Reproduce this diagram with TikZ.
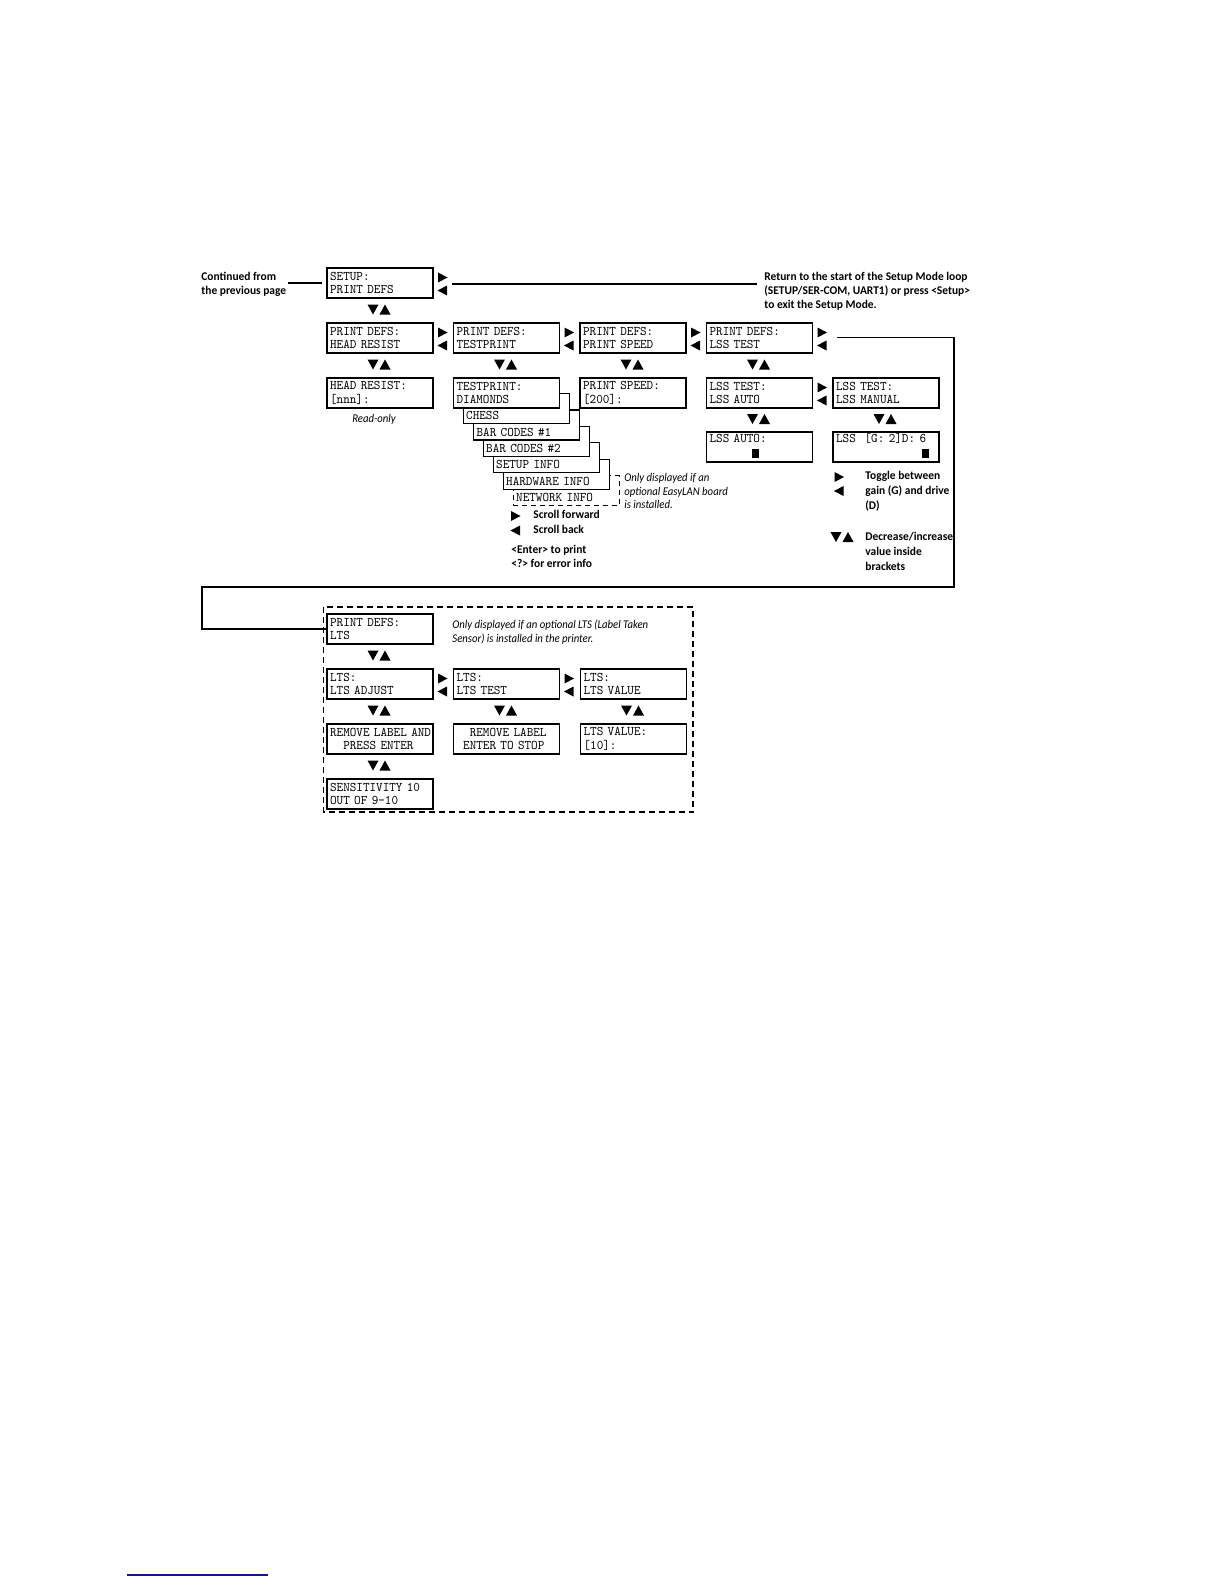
\documentclass[tikz,border=0pt]{standalone}
\usepackage{fontspec}
\setmainfont{Carlito}
\newfontfamily\lcdfont{lmmono10-regular.otf}[FakeStretch=0.95]
\newfontfamily\boldnote{Carlito}[FakeStretch=0.97, UprightFont=* Bold]
\newfontfamily\itnote{Carlito}[FakeStretch=0.91, UprightFont=* Italic]
\usetikzlibrary{calc}
\begin{document}
\begin{tikzpicture}[x=0.5pt,y=-0.5pt,
  lcd/.style={draw, line width=0.9pt, fill=white, anchor=north west,
    minimum width=53pt, minimum height=15pt, inner xsep=1.6pt, inner ysep=0pt,
    text width=49.8pt, align=left, font=\lcdfont\fontsize{6.6}{6.8}\selectfont},
  stk/.style={lcd, line width=0.5pt, text height=12pt, text depth=1.1pt},
  stkthick/.style={stk, line width=0.9pt},
  bnote/.style={font=\boldnote\fontsize{5.9}{6.9}\selectfont, align=left, inner sep=0pt, anchor=west},
  inote/.style={font=\itnote\fontsize{5.9}{6.9}\selectfont, align=left, inner sep=0pt, anchor=west},
  conn/.style={line width=0.75pt},
  rtri/.pic={\fill (-4.5,-5) -- (5,0) -- (-4.5,5) -- cycle;},
  ltri/.pic={\fill (4.5,-5) -- (-5,0) -- (4.5,5) -- cycle;},
  updown/.pic={\fill (-11.5,-5) -- (-0.5,-5) -- (-6,5) -- cycle;
               \fill (0.5,5) -- (11.5,5) -- (6,-5) -- cycle;},
  lrpair/.pic={\pic at (0,10.5) {rtri}; \pic at (0,23.5) {ltri};}
]
\useasboundingbox (0,0) rectangle (1224,1584);

% ---------- row 1
\node[lcd] (setup) at (326,267) {SETUP:\\PRINT DEFS};
\pic at (442.5,267) {lrpair};
\node[bnote] (cont) at (201,284.5) {Continued from\\the previous page};
\draw[conn, shorten >=2pt] (cont.east |- setup.west) ++(1,0) -- (setup.west);
\node[bnote] (ret) at (764,291) {Return to the start of the Setup Mode loop\\(SETUP/SER-COM, UART1) or press <Setup>\\to exit the Setup Mode.};
\coordinate (r0) at (452,284);
\draw[conn, shorten >=3.5pt] (r0) -- (r0 -| ret.west);
\pic at (379,309.5) {updown};

% ---------- row 2
\node[lcd] (pdhead)  at (326,322)   {PRINT DEFS:\\HEAD RESIST};
\node[lcd] (pdtest)  at (452.5,322) {PRINT DEFS:\\TESTPRINT};
\node[lcd] (pdspeed) at (579,322)   {PRINT DEFS:\\PRINT SPEED};
\node[lcd] (pdlss)   at (705.5,322) {PRINT DEFS:\\LSS TEST};
\pic at (442.5,322) {lrpair};
\pic at (569,322) {lrpair};
\pic at (695.5,322) {lrpair};
\pic at (822,322) {lrpair};
\foreach \cx in {379,505.5,632,758.5} \pic at (\cx,364.5) {updown};

% ---------- row 3
\node[lcd] (headres) at (326,377) {HEAD RESIST:\\{[}nnn{]}:};
\node[inote, anchor=center] (ro) at (374,419) {Read-only};

\node[stk, dashed, dash pattern=on 2.5pt off 2pt] (netinfo) at (512.5,475) {NETWORK INFO};
\node[stk] (hwinfo)    at (502.5,458.6) {HARDWARE INFO};
\node[stk] (setinfo)   at (492.5,442.2) {SETUP INFO};
\node[stk] (bc2)       at (482.5,425.8) {BAR CODES \#2};
\node[stkthick] (bc1)  at (472.5,409.4) {BAR CODES \#1};
\node[stk] (chess)     at (462.5,393) {CHESS};
\node[lcd] (testprint) at (452.5,377) {TESTPRINT:\\DIAMONDS};

\node[lcd] (printspeed) at (579,377)   {PRINT SPEED:\\{[}200{]}:};
\node[lcd] (lssauto)    at (705.5,377) {LSS TEST:\\LSS AUTO};
\node[lcd] (lssman)     at (832,377)   {LSS TEST:\\LSS MANUAL};
\pic at (822,377) {lrpair};
\foreach \cx in {758.5,885} \pic at (\cx,419) {updown};

% ---------- row 4
\node[lcd] (lssautov) at (705.5,431) {LSS AUTO:\\\strut};
\node[lcd] (lssgd)    at (832,431)   {\mbox{LSS\ \ {[}G:\ 2{]}D:\ 6}\\\strut};
\fill (752,449) rectangle (759,457.5);
\fill (922,449) rectangle (929,457.5);

% ---------- legends
\node[inote] (easy) at (624,491) {Only displayed if an\\optional EasyLAN board\\is installed.};
\pic at (515.5,516) {rtri};
\pic at (515.5,530.5) {ltri};
\node[bnote] (sf) at (533,514.5) {Scroll forward};
\node[bnote] (sb) at (533,529.5) {Scroll back};
\node[bnote] (ent) at (511,556.5) {<Enter> to print\\<?> for error info};

\pic at (839,477) {rtri};
\pic at (839,491) {ltri};
\node[bnote, font=\boldnote\fontsize{5.9}{7.5}\selectfont] (tog) at (865,491) {Toggle between\\gain (G) and drive\\(D)};
\pic at (842,537) {updown};
\node[bnote, font=\boldnote\fontsize{5.9}{7.5}\selectfont] (dec) at (865,551.5) {Decrease/increase\\value inside\\brackets};

% ---------- LTS group
\draw[line width=0.6pt, dash pattern=on 3pt off 2pt] (323.5,607) rectangle (693,812);
\node[lcd] (pdlts) at (326,613) {PRINT DEFS:\\LTS};
\node[inote] (ltsnote) at (452,632.5) {Only displayed if an optional LTS (Label Taken\\Sensor) is installed in the printer.};
\pic at (379,655.5) {updown};
\node[lcd] (ltsadj)  at (326,668)   {LTS:\\LTS ADJUST};
\node[lcd] (ltstest) at (452.5,668) {LTS:\\LTS TEST};
\node[lcd] (ltsval)  at (579.5,668) {LTS:\\LTS VALUE};
\pic at (442.5,668) {lrpair};
\pic at (569,668) {lrpair};
\foreach \cx in {379,505.5,632.5} \pic at (\cx,710.5) {updown};
\node[lcd] (remove1) at (326,723)   {\mbox{REMOVE LABEL AND}\\\phantom{XX}PRESS ENTER};
\node[lcd] (remove2) at (452.5,723) {\phantom{XX}REMOVE LABEL\\\phantom{X}ENTER TO STOP};
\node[lcd] (ltsvalue) at (579.5,723) {LTS VALUE:\\{[}10{]}:};
\pic at (379,765.5) {updown};
\node[lcd] (sens) at (326,778) {SENSITIVITY 10\\OUT OF 9-10};

% ---------- loop connector
\coordinate (c0) at (837,337.5);
\coordinate (c1) at (954,587);
\coordinate (c2) at (202,600);
\draw[conn] (c0) -| (c1) -| (c2) |- (pdlts.west);

% ---------- footer line
\draw[line width=0.8pt, color={rgb,255:red,20;green,20;blue,150}] (127,1575) -- (268,1575);
\end{tikzpicture}
\end{document}
